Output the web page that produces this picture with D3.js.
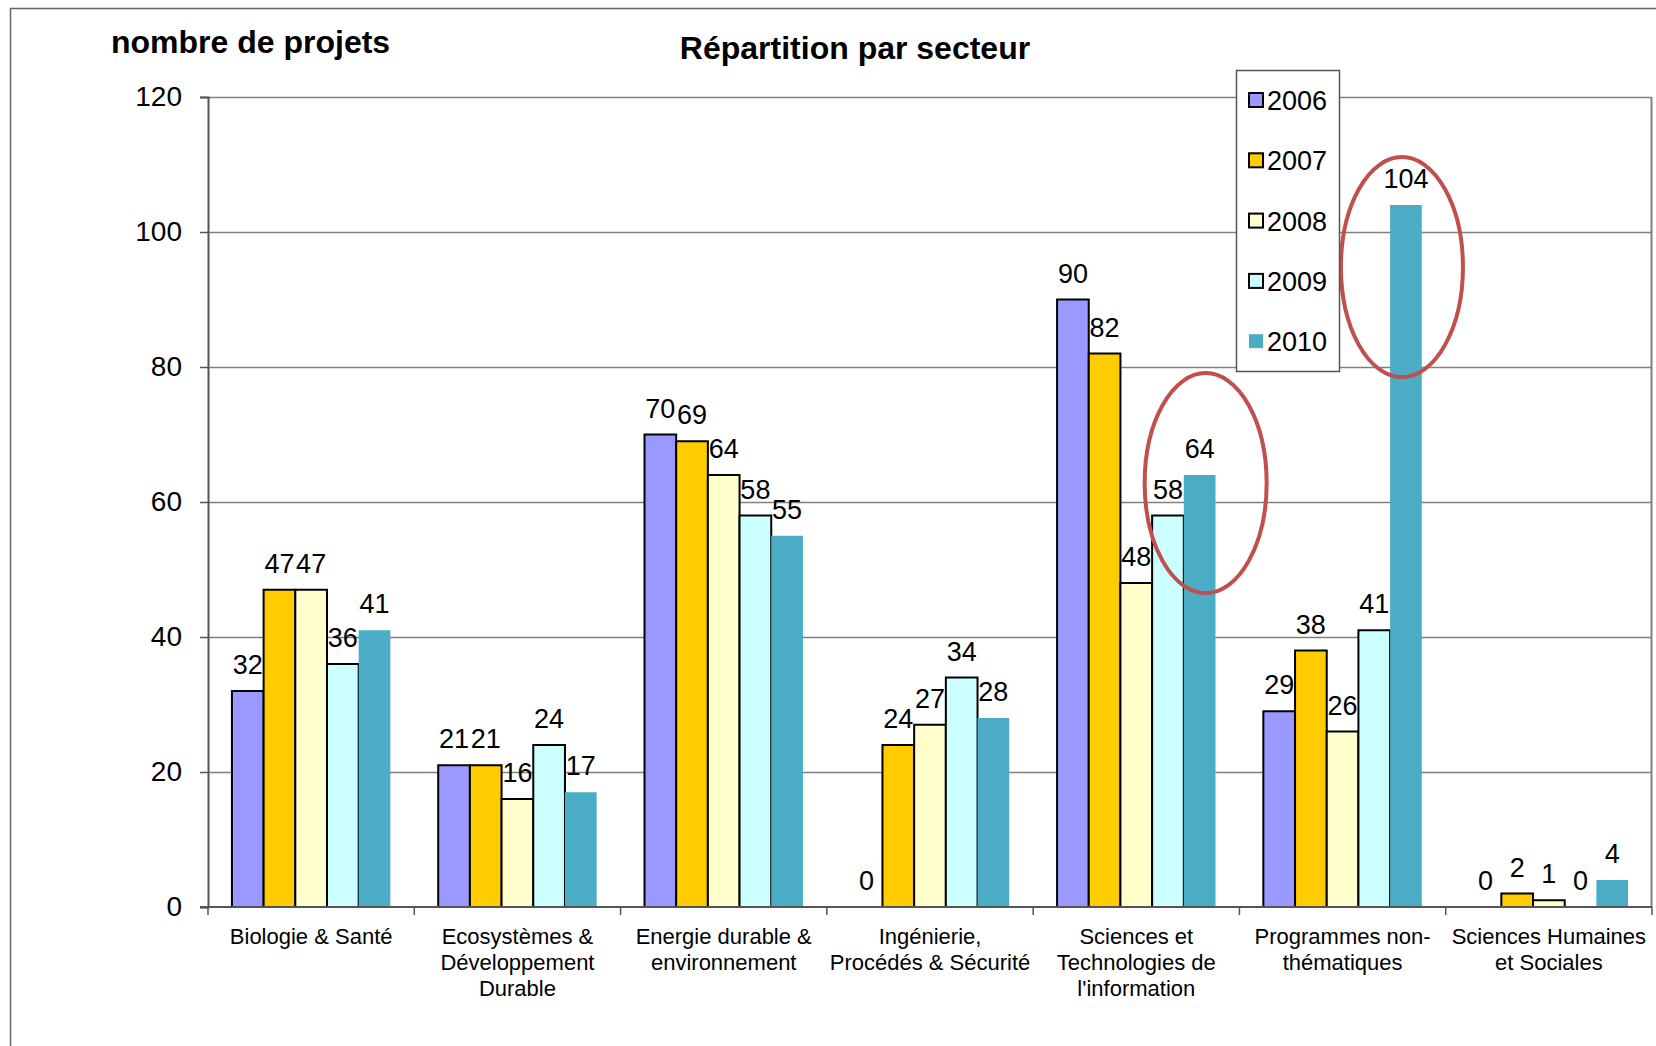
<!DOCTYPE html>
<html>
<head>
<meta charset="utf-8">
<script src="https://cdn.jsdelivr.net/npm/d3@7"></script>
<style>
  body { margin: 0; background: #fff; }
  text { font-family: "Liberation Sans", Arial, sans-serif; fill: #000; }
</style>
</head>
<body>
<div id="chart"></div>
<script>
var categories = [
  "Biologie & Santé",
  "Ecosystèmes &\nDéveloppement\nDurable",
  "Energie durable &\nenvironnement",
  "Ingénierie,\nProcédés & Sécurité",
  "Sciences et\nTechnologies de\nl'information",
  "Programmes non-\nthématiques",
  "Sciences Humaines\net Sociales"
];
var years = ["2006", "2007", "2008", "2009", "2010"];
var values2006 = [32, 21, 70, 0, 90, 29, 0];
var values2007 = [47, 21, 69, 24, 82, 38, 2];
var values2008 = [47, 16, 64, 27, 48, 26, 1];
var values2009 = [36, 24, 58, 34, 58, 41, 0];
var values2010 = [41, 17, 55, 28, 64, 104, 4];
var yTicks = [0, 20, 40, 60, 80, 100, 120];

var colors = { "2006": "#9999ff", "2007": "#ffcc00", "2008": "#ffffcc", "2009": "#ccffff", "2010": "#4bacc6" };
var seriesValues = [values2006, values2007, values2008, values2009, values2010];

var data = categories.map((c, i) => ({
  cat: c,
  vals: years.map((y, j) => ({ year: y, value: seriesValues[j][i] }))
}));

var width = 1656, height = 1046;
var margin = { top: 97, right: 4, bottom: 139, left: 208 };
var chartWidth = width - margin.left - margin.right;
var chartHeight = height - margin.top - margin.bottom;

var svg = d3.select("#chart").append("svg")
  .attr("width", width)
  .attr("height", height);

// outer frame
svg.append("rect")
  .attr("x", 10.5).attr("y", 8.5)
  .attr("width", width + 20).attr("height", height + 20)
  .attr("fill", "none").attr("stroke", "#666").attr("stroke-width", 1.5);

var g = svg.append("g").attr("transform", `translate(${margin.left}, ${margin.top})`);

var x0 = d3.scaleBand().domain(categories).range([0, chartWidth]);
var bw = x0.bandwidth();
var x1 = d3.scaleBand().domain(years).range([bw * 0.116, bw * 0.884]);
var y = d3.scaleLinear().domain([0, 120]).range([chartHeight, 0]);

// gridlines
g.append("g").selectAll("line")
  .data(yTicks.filter(d => d > 0))
  .enter().append("line")
  .attr("x1", 0).attr("x2", chartWidth)
  .attr("y1", d => Math.round(y(d)) + 0.5).attr("y2", d => Math.round(y(d)) + 0.5)
  .attr("stroke", "#808080").attr("stroke-width", 1.3);

// plot right border
g.append("line")
  .attr("x1", chartWidth - 0.5).attr("x2", chartWidth - 0.5)
  .attr("y1", y(120)).attr("y2", y(0))
  .attr("stroke", "#808080").attr("stroke-width", 2);

// bars
var groups = g.append("g").selectAll("g")
  .data(data).enter().append("g")
  .attr("transform", d => `translate(${x0(d.cat)},0)`);

groups.selectAll("rect")
  .data(d => d.vals.filter(v => v.value > 0))
  .enter().append("rect")
  .attr("x", d => x1(d.year))
  .attr("y", d => y(d.value))
  .attr("width", x1.bandwidth())
  .attr("height", d => chartHeight - y(d.value))
  .attr("fill", d => colors[d.year])
  .attr("stroke", d => d.year === "2010" ? "none" : "#000")
  .attr("stroke-width", 2);

groups.selectAll("text")
  .data(d => d.vals)
  .enter().append("text")
  .attr("x", d => x1(d.year) + x1.bandwidth() / 2)
  .attr("y", d => y(d.value) - 17)
  .attr("text-anchor", "middle")
  .style("font-size", "27px")
  .text(d => d.value);

// y axis
var yAxis = d3.axisLeft(y).tickValues(yTicks).tickSize(8).tickPadding(18);
var ya = g.append("g").call(yAxis);
ya.select(".domain").attr("stroke", "#555").attr("stroke-width", 2);
ya.selectAll(".tick line").attr("stroke", "#555").attr("stroke-width", 1.5);
ya.selectAll(".tick text").style("font-size", "28px").style("font-family", "Liberation Sans, Arial, sans-serif").attr("fill", "#000");

// x axis
var xa = g.append("g").attr("transform", `translate(0, ${chartHeight})`);
xa.append("line").attr("x1", -8).attr("x2", chartWidth)
  .attr("stroke", "#555").attr("stroke-width", 2);
xa.selectAll(".xt")
  .data(d3.range(categories.length + 1))
  .enter().append("line")
  .attr("class", "xt")
  .attr("x1", i => i * bw).attr("x2", i => i * bw)
  .attr("y1", 0).attr("y2", 8)
  .attr("stroke", "#555").attr("stroke-width", 1.5);

var catLabels = xa.selectAll(".cat")
  .data(categories).enter().append("text")
  .attr("class", "cat")
  .attr("text-anchor", "middle")
  .attr("transform", d => `translate(${x0(d) + bw / 2}, 37)`)
  .style("font-size", "22px");
catLabels.selectAll("tspan")
  .data(d => d.split("\n"))
  .enter().append("tspan")
  .attr("x", 0)
  .attr("dy", (d, i) => i === 0 ? 0 : 26)
  .text(d => d);

// highlight ellipses, centred near the 2010 bar of each highlighted sector
var highlights = [
  { cat: categories[4], dx: 6, value: 62.8, ry: 16.3 },
  { cat: categories[5], dx: -4, value: 94.8, ry: 16.3 }
];
g.selectAll(".hl")
  .data(highlights).enter().append("ellipse")
  .attr("class", "hl")
  .attr("cx", d => x0(d.cat) + x1("2010") + x1.bandwidth() / 2 + d.dx)
  .attr("cy", d => y(d.value))
  .attr("rx", 61)
  .attr("ry", d => y(0) - y(d.ry))
  .attr("fill", "none")
  .attr("stroke", "#c0504d")
  .attr("stroke-width", 4);

// legend
var legend = svg.append("g").attr("transform", "translate(1236, 70)");
legend.append("rect")
  .attr("x", 0.5).attr("y", 0.5).attr("width", 103).attr("height", 301)
  .attr("fill", "#fff").attr("stroke", "#555").attr("stroke-width", 1.5);
var items = legend.selectAll(".item")
  .data(years).enter().append("g")
  .attr("transform", (d, i) => `translate(0, ${30 + i * 60.3})`);
items.append("rect")
  .attr("x", 13).attr("y", -7).attr("width", 14).attr("height", 14)
  .attr("fill", d => colors[d])
  .attr("stroke", d => d === "2010" ? "none" : "#000")
  .attr("stroke-width", 2);
items.append("text")
  .attr("x", 31).attr("y", 10)
  .style("font-size", "27px")
  .text(d => d);

// titles
svg.append("text")
  .attr("x", 111).attr("y", 53)
  .style("font-size", "32px").style("font-weight", "bold")
  .text("nombre de projets");
svg.append("text")
  .attr("x", 855).attr("y", 59)
  .attr("text-anchor", "middle")
  .style("font-size", "32px").style("font-weight", "bold")
  .text("Répartition par secteur");
</script>
</body>
</html>
